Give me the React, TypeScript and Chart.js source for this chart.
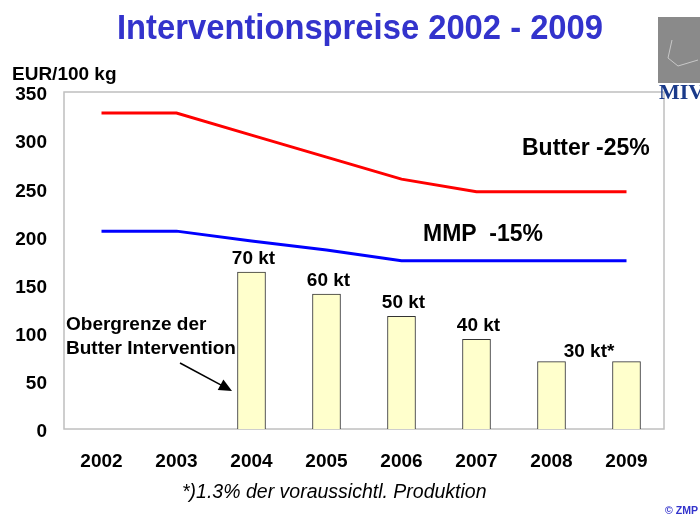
import { useEffect, useRef } from "react";
import { Chart, registerables } from "chart.js";

Chart.register(...registerables);

const years = ["2002", "2003", "2004", "2005", "2006", "2007", "2008", "2009"];
const butterPrice = [328.2, 328.2, 305.2, 282.4, 259.5, 246.4, 246.4, 246.4];
const mmpPrice = [205.5, 205.5, 195.2, 185.9, 174.7, 174.7, 174.7, 174.7];
const interventionLimit: (number | null)[] = [null, null, 163, 140, 117, 93, 70, 70];
const barLabels = ["", "", "70 kt", "60 kt", "50 kt", "40 kt", "", ""];
const lastLabel = "30 kt*";

const FONT = '"Liberation Sans", Arial, Helvetica, sans-serif';

const annotations = {
  id: "annotations",
  beforeDatasetsDraw(chart: any) {
    const { ctx, chartArea } = chart;
    ctx.save();
    ctx.strokeStyle = "#bfbfbf";
    ctx.lineWidth = 1.5;
    ctx.strokeRect(chartArea.left, chartArea.top, chartArea.right - chartArea.left, chartArea.bottom - chartArea.top);
    ctx.restore();
  },
  afterDraw(chart: any) {
    const { ctx } = chart;
    const x = chart.scales.x;
    const y = chart.scales.y;
    ctx.save();

    // Title
    ctx.fillStyle = "#3333cc";
    ctx.font = `bold 35px ${FONT}`;
    ctx.textAlign = "center";
    ctx.textBaseline = "alphabetic";
    ctx.fillText("Interventionspreise 2002 - 2009", 360, 39, 486);

    // Axis unit
    ctx.fillStyle = "#000";
    ctx.font = `bold 19px ${FONT}`;
    ctx.textAlign = "left";
    ctx.fillText("EUR/100 kg", 12, 80, 106);

    // Bar labels
    ctx.font = `bold 19px ${FONT}`;
    ctx.textAlign = "center";
    barLabels.forEach((lab, i) => {
      const v = interventionLimit[i];
      if (!lab || v == null) return;
      ctx.fillText(lab, x.getPixelForValue(i) + 2, y.getPixelForValue(v) - 8);
    });
    const v6 = interventionLimit[6] as number;
    ctx.fillText(lastLabel, (x.getPixelForValue(6) + x.getPixelForValue(7)) / 2, y.getPixelForValue(v6) - 5);

    // Series labels
    ctx.font = `bold 23px ${FONT}`;
    ctx.textAlign = "left";
    ctx.fillText("Butter -25%", 522, 155, 128);
    ctx.fillText("MMP  -15%", 423, 241, 120);

    // Note at left
    ctx.font = `bold 19px ${FONT}`;
    ctx.fillText("Obergrenze der", 66, 330, 142);
    ctx.fillText("Butter Intervention", 66, 354, 172);

    // Arrow
    const ax0 = 180, ay0 = 363, ax1 = 232, ay1 = 391;
    ctx.strokeStyle = "#000";
    ctx.lineWidth = 1.5;
    ctx.beginPath();
    ctx.moveTo(ax0, ay0);
    ctx.lineTo(ax1 - 8, ay1 - 4.3);
    ctx.stroke();
    const ang = Math.atan2(ay1 - ay0, ax1 - ax0);
    ctx.beginPath();
    ctx.moveTo(ax1, ay1);
    ctx.lineTo(ax1 - 13 * Math.cos(ang) + 6 * Math.sin(ang), ay1 - 13 * Math.sin(ang) - 6 * Math.cos(ang));
    ctx.lineTo(ax1 - 13 * Math.cos(ang) - 6 * Math.sin(ang), ay1 - 13 * Math.sin(ang) + 6 * Math.cos(ang));
    ctx.closePath();
    ctx.fillStyle = "#000";
    ctx.fill();

    // Footnote
    ctx.font = `italic 19.5px ${FONT}`;
    ctx.textAlign = "left";
    ctx.fillText("*)1.3% der voraussichtl. Produktion", 182, 498, 308);

    // Source
    ctx.fillStyle = "#3333cc";
    ctx.font = `bold 11px ${FONT}`;
    ctx.fillText("© ZMP", 665, 514, 33);

    // Logo
    ctx.fillStyle = "#8a8a8a";
    ctx.fillRect(658, 17, 42, 66);
    ctx.strokeStyle = "#c8c8c8";
    ctx.lineWidth = 1;
    ctx.beginPath();
    ctx.moveTo(672, 40);
    ctx.lineTo(668, 58);
    ctx.lineTo(678, 66);
    ctx.lineTo(698, 60);
    ctx.stroke();
    ctx.fillStyle = "#1a3a8a";
    ctx.font = `bold 22px "Liberation Serif", "Times New Roman", serif`;
    ctx.fillText("MIV", 659, 99);

    ctx.restore();
  },
};

export default function App() {
  const ref = useRef<HTMLCanvasElement | null>(null);
  useEffect(() => {
    if (!ref.current) return;
    const chart = new Chart(ref.current, {
      type: "bar",
      data: {
        labels: years,
        datasets: [
          {
            type: "line",
            label: "Butter",
            data: butterPrice,
            borderColor: "#ff0000",
            borderWidth: 3,
            pointRadius: 0,
            tension: 0,
            fill: false,
          },
          {
            type: "line",
            label: "MMP",
            data: mmpPrice,
            borderColor: "#0000ff",
            borderWidth: 3,
            pointRadius: 0,
            tension: 0,
            fill: false,
          },
          {
            type: "bar",
            label: "Obergrenze",
            data: interventionLimit,
            backgroundColor: "#ffffcc",
            borderColor: "#333333",
            borderWidth: 1,
            barThickness: 28,
          },
        ],
      } as any,
      options: {
        responsive: false,
        animation: false,
        layout: { padding: { left: 0, top: 92, right: 36, bottom: 0 } },
        plugins: { legend: { display: false }, tooltip: { enabled: false }, title: { display: false } },
        scales: {
          x: {
            grid: { display: false, drawTicks: false },
            border: { display: false },
            ticks: { color: "#000", font: { family: FONT, size: 19, weight: "bold" }, padding: 21 },
            afterFit: (s: any) => { s.height = 90; },
          },
          y: {
            min: 0,
            max: 350,
            grid: { display: false, drawTicks: false },
            border: { display: false },
            ticks: { stepSize: 50, color: "#000", font: { family: FONT, size: 19, weight: "bold" }, padding: 17, labelOffset: 3 },
            afterFit: (s: any) => { s.width = 64; },
          },
        },
      } as any,
      plugins: [annotations],
    });
    return () => chart.destroy();
  }, []);
  return (
    <div style={{ position: "absolute", left: 0, top: 0, width: 700, height: 519, background: "#fff" }}>
      <canvas ref={ref} width={700} height={519} />
    </div>
  );
}
